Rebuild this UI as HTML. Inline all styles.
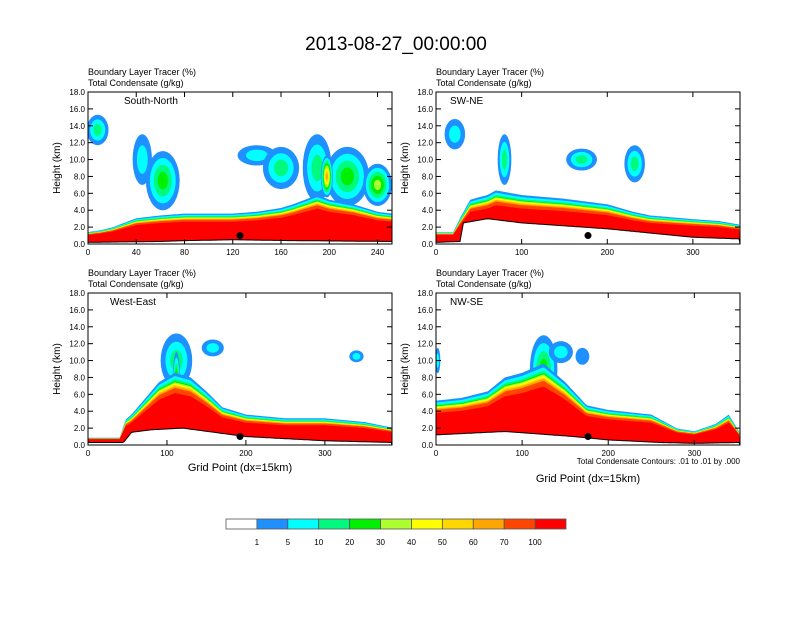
<!DOCTYPE html>
<html><head><meta charset="utf-8">
<style>
body{margin:0;background:#fff;font-family:"Liberation Sans",sans-serif;}
svg text{font-family:"Liberation Sans",sans-serif;}
</style></head>
<body>
<svg id="fig" width="792" height="612" xmlns="http://www.w3.org/2000/svg">
<rect width="792" height="612" fill="#fff"/>
<text x="396" y="50" font-size="19" text-anchor="middle">2013-08-27_00:00:00</text>
</svg>
<script>
// ---- data ----
const colorLevels = ["1","5","10","20","30","40","50","60","70","100"];
const colors = ["#ffffff","#1e90ff","#00ffff","#00fa80","#00f000","#adff2f","#ffff00","#ffd700","#ffa500","#ff4500","#ff0000"];
const panelNames = ["South-North","SW-NE","West-East","NW-SE"];
const yTicks = ["0.0","2.0","4.0","6.0","8.0","10.0","12.0","14.0","16.0","18.0"];
const xMax = [252,355,385,353];
const xTicksTL = [0,40,80,120,160,200,240];
const xTicksOther = [0,100,200,300];
// boundary-layer top height (km) at grid point positions
const blxTL = [0,10,20,30,40,60,80,100,120,140,160,170,180,190,200,220,240,252];
const blhTL = [1.0,1.2,1.5,2.0,2.5,2.8,3.0,3.0,3.0,3.2,3.6,4.0,4.5,5.0,4.5,4.0,3.2,3.0];
const blxTR = [0,20,28,40,60,70,100,150,200,230,250,300,330,355];
const blhTR = [1.0,1.0,2.5,4.5,5.0,5.5,5.0,4.6,4.0,3.2,2.8,2.4,2.2,1.8];
const blxBL = [0,40,48,55,70,90,110,130,150,170,200,250,300,350,385];
const blhBL = [0.5,0.5,2.5,3.0,4.5,6.5,7.5,7.0,5.5,3.8,3.0,2.6,2.6,2.2,1.6];
const blxBR = [0,30,60,80,100,125,150,175,200,250,280,300,325,340,353];
const blhBR = [4.5,4.8,5.5,7.0,7.5,8.5,6.5,4.0,3.5,3.0,1.5,1.2,2.0,3.0,1.0];
// terrain height (km)
const terxTL = [0,60,80,120,170,252]; const terhTL = [0.2,0.3,0.4,0.5,0.4,0.3];
const terxTR = [0,28,32,60,100,200,300,355]; const terhTR = [0.2,0.3,2.5,3.0,2.5,1.8,0.8,0.6];
const terxBL = [0,45,55,80,120,160,200,300,385]; const terhBL = [0.3,0.3,1.5,1.8,2.0,1.5,1.0,0.5,0.3];
const terxBR = [0,40,80,120,160,200,260,300,353]; const terhBR = [1.2,1.4,1.6,1.3,1.0,0.6,0.3,0.2,0.3];
// upper cloud blobs: center x, center height, half-width (grid), half-height (km), max level
const blobsTL = [[8,13.5,9,1.8,3],[45,10,8,3,2],[62,7.5,14,3.5,4],[140,10.5,16,1.2,2],[160,9,15,2.5,3],[190,9,12,4,3],[215,8,18,3.5,4],[240,7,12,2.5,5],[198,8,5,2.5,8]];
const blobsTR = [[22,13,12,1.8,2],[80,10,8,3,3],[170,10,18,1.3,3],[232,9.5,12,2.2,3]];
const blobsBL = [[112,10,20,3.2,3],[158,11.5,14,1,2],[340,10.5,9,0.7,2],[112,7,5,4,6]];
const blobsBR = [[125,9,16,4,4],[2,10,3,1.5,2],[145,11,14,1.3,2],[170,10.5,8,1,1]];

const panels = [
 {x0:88,y0:92,name:"top-left",bx:blxTL,bh:blhTL,tx:terxTL,th:terhTL,bl:blobsTL,ticks:xTicksTL},
 {x0:436,y0:92,name:"top-right",bx:blxTR,bh:blhTR,tx:terxTR,th:terhTR,bl:blobsTR,ticks:xTicksOther},
 {x0:88,y0:293,name:"bottom-left",bx:blxBL,bh:blhBL,tx:terxBL,th:terhBL,bl:blobsBL,ticks:xTicksOther},
 {x0:436,y0:293,name:"bottom-right",bx:blxBR,bh:blhBR,tx:terxBR,th:terhBR,bl:blobsBR,ticks:xTicksOther}
];
const W=304,H=152;
const NS="http://www.w3.org/2000/svg";
const svg=document.getElementById('fig');
function mk(tag,attrs,parent){const e=document.createElementNS(NS,tag);for(const k in attrs)e.setAttribute(k,attrs[k]);(parent||svg).appendChild(e);return e;}
function interp(xs,ys,x){for(let i=1;i<xs.length;i++){if(x<=xs[i]){const t=(x-xs[i-1])/(xs[i]-xs[i-1]);return ys[i-1]+t*(ys[i]-ys[i-1]);}}return ys[ys.length-1];}
const fracs=[1.1,1.05,1.0,0.97,0.95,0.93,0.91,0.89,0.86,0.78];

panels.forEach((p,pi)=>{
 const g=mk('g',{});
 
 
 const xs=v=>p.x0+v/xMax[pi]*W;
 const ys=v=>p.y0+H-v/18*H;
 const clip=mk('clipPath',{id:'c'+pi},g);
 mk('rect',{x:p.x0,y:p.y0,width:W,height:H},clip);
 const pg=mk('g',{'clip-path':'url(#c'+pi+')'},g);
 p.bl.forEach(b=>{
  for(let l=1;l<=b[4];l++){
   const s=1-(l-1)/(b[4]+0.3);
   const el=mk('ellipse',{cx:xs(b[0]),cy:ys(b[1]),rx:Math.max(1,(xs(b[2])-p.x0)*s),ry:Math.max(1,(b[3]/18*H)*s),fill:colors[l]},pg);
   
   
  }
 });
 fracs.forEach((f,i)=>{
  let d='M'+xs(0)+','+ys(0);
  for(let x=0;x<=xMax[pi];x+=2){d+=' L'+xs(x).toFixed(1)+','+ys(interp(p.bx,p.bh,x)*f+0.3).toFixed(1);}
  d+=' L'+xs(xMax[pi])+','+ys(0)+' Z';
  const el=mk('path',{d:d,fill:colors[i+1]},pg);
  
  
 });
 let d='M'+xs(0)+','+ys(0);
 for(let x=0;x<=xMax[pi];x+=2){d+=' L'+xs(x).toFixed(1)+','+ys(interp(p.tx,p.th,x)).toFixed(1);}
 d+=' L'+xs(xMax[pi])+','+ys(0)+' Z';
 const t=mk('path',{d:d,fill:'#fff',stroke:'#000','stroke-width':1},pg);
 
 
 const dot=mk('circle',{cx:xs(xMax[pi]*0.5),cy:ys(1.0),r:3.5,fill:'#000'},pg);
 
 
 mk('rect',{x:p.x0,y:p.y0,width:W,height:H,fill:'none',stroke:'#000','stroke-width':1},g);
 yTicks.forEach((lab,i)=>{
  const y=ys(i*2);
  mk('line',{x1:p.x0,x2:p.x0+5,y1:y,y2:y,stroke:'#000'},g);
  mk('line',{x1:p.x0+W,x2:p.x0+W-5,y1:y,y2:y,stroke:'#000'},g);
  const tx=mk('text',{x:p.x0-3,y:y+3,'font-size':8,'text-anchor':'end'},g);tx.textContent=lab;
 });
 p.ticks.forEach(v=>{
  const x=xs(v);
  mk('line',{x1:x,x2:x,y1:p.y0+H,y2:p.y0+H-5,stroke:'#000'},g);
  mk('line',{x1:x,x2:x,y1:p.y0,y2:p.y0+5,stroke:'#000'},g);
  const tx=mk('text',{x:x,y:p.y0+H+11,'font-size':8,'text-anchor':'middle'},g);tx.textContent=v;
 });
 const yl=mk('text',{x:0,y:0,'font-size':10,'text-anchor':'middle',transform:`translate(${p.x0-28},${p.y0+H/2}) rotate(-90)`},g);yl.textContent='Height (km)';
 
 const t1=mk('text',{x:p.x0,y:p.y0-17,'font-size':9},g);t1.textContent='Boundary Layer Tracer    (%)';
 const t2=mk('text',{x:p.x0,y:p.y0-6,'font-size':9},g);t2.textContent='Total Condensate    (g/kg)';
 const nm=mk('text',{x:p.x0+(pi==0?36:pi==2?22:14),y:p.y0+12,'font-size':10},g);nm.textContent=panelNames[pi];
 
});
const xl1=mk('text',{x:240,y:471,'font-size':11,'text-anchor':'middle'});xl1.textContent='Grid Point (dx=15km)';

const xl2=mk('text',{x:588,y:482,'font-size':11,'text-anchor':'middle'});xl2.textContent='Grid Point (dx=15km)';

const cn=mk('text',{x:740,y:464,'font-size':8,'text-anchor':'end'});cn.textContent='Total Condensate Contours: .01 to .01 by .000';

const cb=mk('g',{});


const bw=340/colors.length;
colors.forEach((c,i)=>{
 const r=mk('rect',{x:226+i*bw,y:519,width:bw,height:10,fill:c,stroke:'#555','stroke-width':0.8},cb);
 
 
});
colorLevels.forEach((l,i)=>{
 const t=mk('text',{x:226+(i+1)*bw,y:545,'font-size':8,'text-anchor':'middle'},cb);t.textContent=l;
});
</script>
</body></html>
